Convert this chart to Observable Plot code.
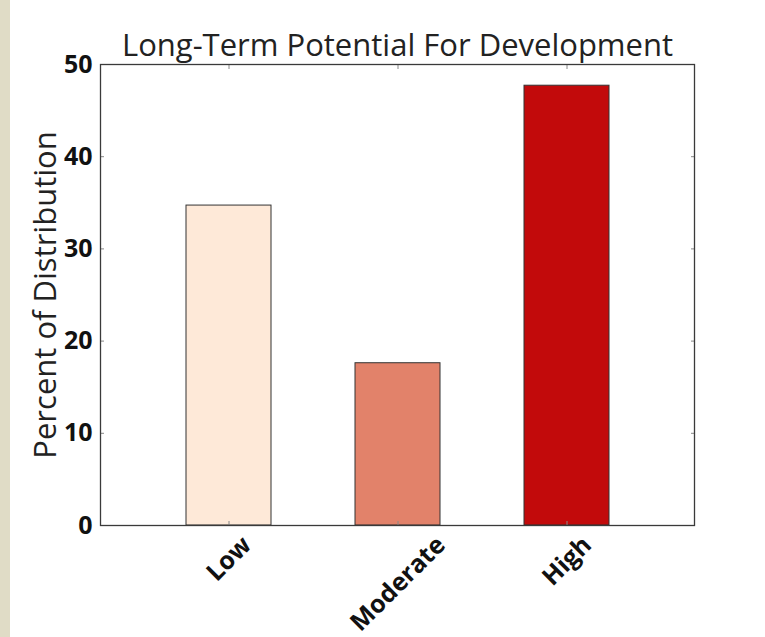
<!DOCTYPE html>
<html>
<head>
<meta charset="utf-8">
<script src="https://cdn.jsdelivr.net/npm/d3@7"></script>
<script src="https://cdn.jsdelivr.net/npm/@observablehq/plot@0.6"></script>
<style>
  html, body { margin: 0; padding: 0; background: #fff; }
  #wrap { position: relative; width: 765px; height: 637px; overflow: hidden; }
  #strip { position: absolute; left: 0; top: 0; width: 10px; height: 637px; background: #e0dcc6; }
  #chart { position: absolute; left: 0; top: 0; }
</style>
</head>
<body>
<div id="wrap"><div id="chart"></div><div id="strip"></div></div>
<script>
const categories = ["Low", "Moderate", "High"];
const values = [34.7, 17.6, 47.7];
const colors = ["#fee9d8", "#e2826a", "#c20a0b"];
const yTicks = [0, 10, 20, 30, 40, 50];
const titleText = "Long-Term Potential For Development";
const yLabelText = "Percent of Distribution";

const data = categories.map((c, i) => ({category: c, value: values[i]}));

const FONT = "'Open Sans', sans-serif";
const tickFontSize = 25;

// measure label widths to center rotated labels under their ticks
const ctx = document.createElement("canvas").getContext("2d");
ctx.font = `bold ${tickFontSize}px 'Open Sans'`;
const capH = tickFontSize * 0.72;
const labelMarks = categories.map(c => {
  const w = ctx.measureText(c).width;
  const half = (w + capH) * Math.SQRT1_2 / 2;
  return Plot.text([c], {
    x: d => d, frameAnchor: "bottom", rotate: -45,
    textAnchor: "middle", lineAnchor: "middle",
    dy: 9 + half, fontSize: tickFontSize, fontWeight: "bold", fill: "#111"
  });
});

const chart = Plot.plot({
  width: 765,
  height: 637,
  marginLeft: 100,
  marginRight: 71,
  marginTop: 64,
  marginBottom: 112,
  style: {fontFamily: FONT, background: "transparent"},
  x: {domain: categories, padding: 0.5},
  y: {domain: [0, 50]},
  color: {domain: categories, range: colors},
  marks: [
    Plot.barY(data, {x: "category", y: "value", fill: "category", stroke: "#333", strokeWidth: 1}),
    Plot.axisY(yTicks, {anchor: "left", tickSize: 4, dx: 4, fill: "none", stroke: "#888", label: null}),
    Plot.axisY(yTicks, {anchor: "right", tickSize: 4, dx: -4, fill: "none", stroke: "#888", label: null}),
    Plot.axisX(categories, {anchor: "bottom", tickSize: 4, dy: -4, fill: "none", stroke: "#888", label: null}),
    Plot.axisX(categories, {anchor: "top", tickSize: 4, dy: 4, fill: "none", stroke: "#888", label: null}),
    Plot.axisY(yTicks, {anchor: "left", tickSize: 0, tickPadding: 8, fontSize: tickFontSize, fontWeight: "bold", fill: "#111", label: null}),
    Plot.frame({stroke: "#3a3a3a", strokeWidth: 1.3}),
    ...labelMarks,
    Plot.text([titleText], {frameAnchor: "top", textAnchor: "middle", lineAnchor: "bottom", dy: -9, fontSize: 31, fill: "#222"}),
    Plot.text([yLabelText], {frameAnchor: "left", textAnchor: "middle", rotate: -90, lineAnchor: "bottom", dx: -45, fontSize: 31, fill: "#222"})
  ]
});
document.getElementById("chart").appendChild(chart);
</script>
</body>
</html>
